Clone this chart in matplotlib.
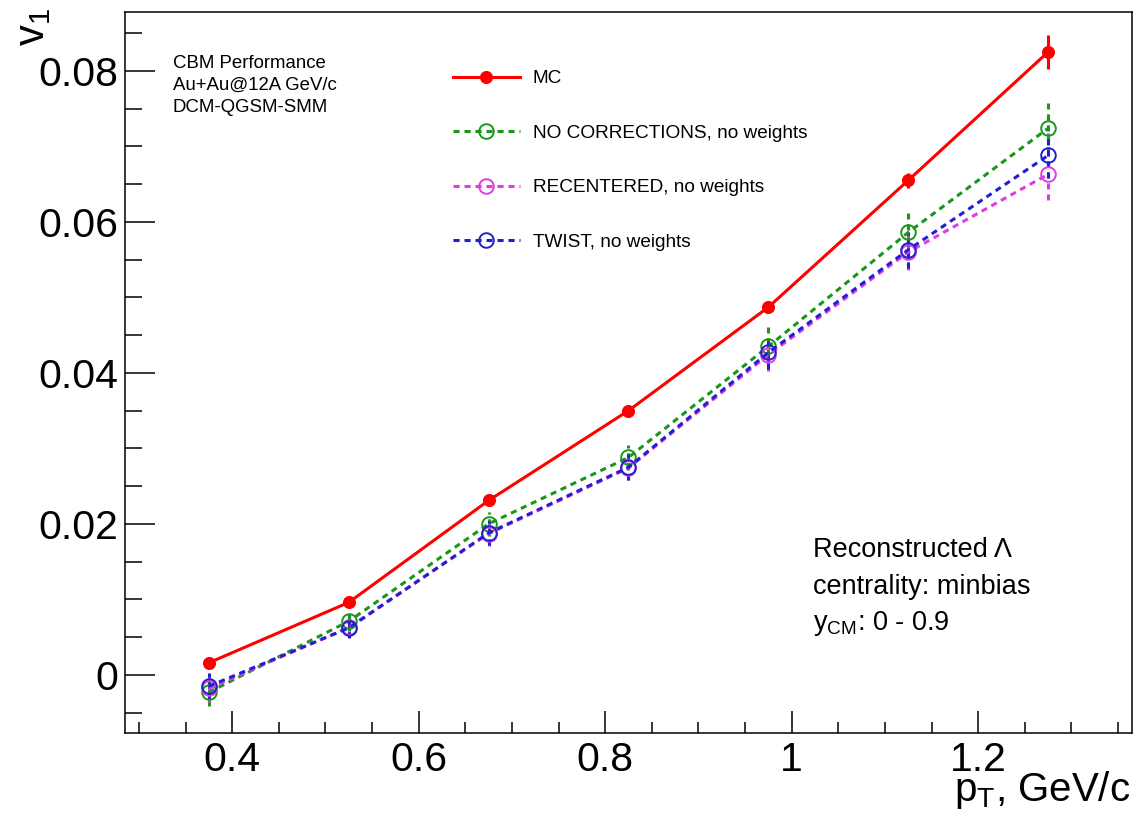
import matplotlib
matplotlib.use("Agg")
import matplotlib.pyplot as plt
from matplotlib.ticker import MultipleLocator, FixedLocator, FixedFormatter
from matplotlib.lines import Line2D

plt.rcParams['font.family'] = ['Liberation Sans', 'DejaVu Sans']
plt.rcParams['mathtext.fontset'] = 'custom'
plt.rcParams['mathtext.rm'] = 'Liberation Sans'
plt.rcParams['mathtext.it'] = 'Liberation Sans:italic'
plt.rcParams['mathtext.default'] = 'regular'

# ---- data ----
pt = [0.375, 0.525, 0.675, 0.825, 0.975, 1.125, 1.275]
mc = [0.0016, 0.0096, 0.0231, 0.0350, 0.0487, 0.0655, 0.0825]
mc_err = [0.0003, 0.0003, 0.0005, 0.0006, 0.0006, 0.0010, 0.0022]
nocorr = [-0.0023, 0.0071, 0.0200, 0.0288, 0.0435, 0.0586, 0.0724]
nocorr_err = [0.0018, 0.0013, 0.0016, 0.0016, 0.0026, 0.0026, 0.0033]
recent = [-0.0018, 0.0063, 0.0187, 0.0274, 0.0424, 0.0560, 0.0663]
recent_err = [0.0018, 0.0013, 0.0016, 0.0016, 0.0022, 0.0024, 0.0034]
twist = [-0.0015, 0.0062, 0.0188, 0.0275, 0.0427, 0.0563, 0.0688]
twist_err = [0.0017, 0.0013, 0.0016, 0.0017, 0.0022, 0.0024, 0.0030]

labels = ['MC', 'NO CORRECTIONS, no weights', 'RECENTERED, no weights', 'TWIST, no weights']
colors = ['#ff0000', '#1a961a', '#e03ce0', '#2020d0']

xticks = [0.4, 0.6, 0.8, 1.0, 1.2]
xticklabels = ['0.4', '0.6', '0.8', '1', '1.2']
yticks = [0.0, 0.02, 0.04, 0.06, 0.08]
yticklabels = ['0', '0.02', '0.04', '0.06', '0.08']

W, H = 1136, 824
def fx(x):
    return x / W
def fy(y):
    return 1 - y / H

fig = plt.figure(figsize=(W / 100, H / 100), dpi=100)
ax = fig.add_axes([fx(125), fy(733), (1132 - 125) / W, (733 - 12) / H])

lw = 2.2
dash = (0, (2.0, 1.6))

series = [
    (mc, mc_err, colors[0], '-', 'o', True),
    (nocorr, nocorr_err, colors[1], dash, 'o', False),
    (recent, recent_err, colors[2], dash, 'o', False),
    (twist, twist_err, colors[3], dash, 'o', False),
]
handles = []
for (vals, errs, c, ls, mk, filled), lab in zip(series, labels):
    ms = 8.0 if filled else 10.5
    eb = ax.errorbar(pt, vals, yerr=errs, color=c, linestyle=ls, linewidth=lw,
                     marker=mk, markersize=ms,
                     markerfacecolor=c if filled else 'none',
                     markeredgecolor=c, markeredgewidth=1.4,
                     elinewidth=lw, capsize=0)
    if not filled:
        for coll in eb[2]:
            coll.set_linestyle(ls)
    handles.append(Line2D([], [], color=c, linestyle=ls, linewidth=lw, marker=mk,
                          markersize=ms,
                          markerfacecolor=c if filled else 'none',
                          markeredgecolor=c, markeredgewidth=1.4))

ax.set_xlim(0.285, 1.365)
ax.set_ylim(-0.0077, 0.0878)

ax.xaxis.set_major_locator(FixedLocator(xticks))
ax.xaxis.set_major_formatter(FixedFormatter(xticklabels))
ax.xaxis.set_minor_locator(MultipleLocator(0.05))
ax.yaxis.set_major_locator(FixedLocator(yticks))
ax.yaxis.set_major_formatter(FixedFormatter(yticklabels))
ax.yaxis.set_minor_locator(MultipleLocator(0.005))

ax.tick_params(axis='both', which='both', direction='in', top=False, right=False,
               width=1.1, labelsize=29.5)
ax.tick_params(axis='x', which='major', length=15.8, pad=6)
ax.tick_params(axis='x', which='minor', length=7.9)
ax.tick_params(axis='y', which='major', length=21.6, pad=5)
ax.tick_params(axis='y', which='minor', length=12.2)
for s in ax.spines.values():
    s.set_linewidth(1.1)

# axis titles
fig.text(fx(33), fy(8), r'v$_{1}$', rotation=90, ha='center', va='top', fontsize=30)
fig.text(fx(1130), fy(801), r'p$_{T}$, GeV/c', ha='right', va='baseline', fontsize=29)

# info texts
for i, t in enumerate(['CBM Performance', 'Au+Au@12A GeV/c', 'DCM-QGSM-SMM']):
    fig.text(fx(173), fy(68 + 22 * i), t, ha='left', va='baseline', fontsize=13.4)
for i, t in enumerate(['Reconstructed Λ', 'centrality: minbias', r'y$_{CM}$: 0 - 0.9']):
    fig.text(fx(813), fy(557 + 36.5 * i), t, ha='left', va='baseline', fontsize=19.5)

fig.legend(handles, labels, loc='upper left', bbox_to_anchor=(fx(453), fy(70)),
           frameon=False, fontsize=13.7, borderpad=0, borderaxespad=0,
           handlelength=3.5, handletextpad=0.68, labelspacing=1.95, numpoints=1)

fig.savefig('out.png', dpi=100)
